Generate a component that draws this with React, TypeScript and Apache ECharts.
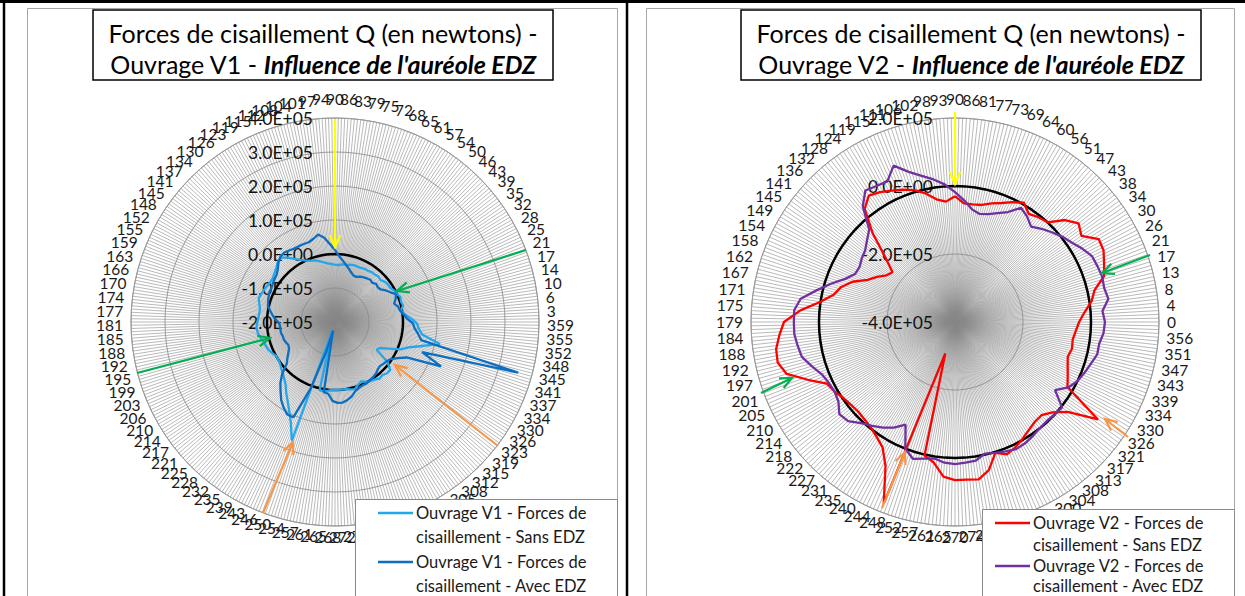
import React, { useEffect, useRef } from "react";
import * as echarts from "echarts";

// Values are in units of 1E+05 N
const UNIT = 1e5;

const ANGLES_V1 = ["90","86","83","79","75","72","68","65","61","57","54","50","46","43","39","35","32","28","25","21","17","14","10","6","3",
  "359","355","352","348","345","341","337","334","330","326","323","319","315","312","308","305","301","297","294","290","286","283","279","275","272",
  "268","265","261","257","254","250","246","243","239","235","232","228","225","221","217","214","210","206","203","199","195","192","188","185","181",
  "177","174","170","166","163","159","155","152","148","145","141","137","134","130","126","123","119","115","112","108","104","101","97","94"];

const V1_SANS_EDZ = [-0.32,-0.32,-0.29,-0.29,-0.26,-0.24,-0.24,-0.24,-0.21,-0.21,
  -0.18,-0.18,-0.15,-0.18,-0.12,-0.09,-0.09,-0.03,0.0,0.06,
  0.03,0.06,-0.03,0.06,0.24,0.41,0.47,0.59,1.15,0.65,
  0.29,0.09,-0.24,-0.47,-0.53,-0.06,0.15,0.15,0.09,0.12,
  0.06,0.03,-0.03,-0.09,-0.03,0.06,0.03,0.0,0.0,0.0,
  0.0,0.03,0.06,0.06,-1.76,1.71,1.24,0.94,0.71,0.53,
  0.35,0.24,0.15,0.09,0.03,0.0,0.0,0.06,0.12,0.15,
  0.18,0.24,0.29,0.32,0.29,0.26,0.24,0.24,0.29,0.35,
  0.32,0.29,0.26,0.24,0.24,0.29,0.35,0.44,0.47,0.35,
  0.21,0.09,0.0,-0.06,-0.09,-0.15,-0.21,-0.26,-0.29];

const V1_AVEC_EDZ = [0.12,-0.06,-0.18,-0.29,-0.38,-0.47,-0.53,-0.53,-0.47,-0.44,
  -0.41,-0.38,-0.41,-0.35,-0.38,-0.35,-0.24,-0.15,-0.03,-0.09,
  -0.18,-0.09,-0.06,0.03,0.12,0.29,0.35,0.47,0.59,3.59,
  0.71,1.38,0.35,0.12,-0.03,-0.09,-0.12,-0.15,-0.12,-0.06,
  -0.03,0.0,0.03,0.03,0.06,0.12,0.24,0.32,0.38,0.38,
  0.32,0.12,0.09,-1.74,-1.12,0.06,1.06,1.06,0.94,0.79,
  0.59,0.41,0.18,-0.12,-0.24,-0.35,-0.44,-0.47,-0.44,-0.41,
  -0.41,-0.38,-0.38,-0.38,-0.35,-0.24,-0.15,-0.06,0.03,0.06,
  0.09,0.12,0.12,0.15,0.18,0.21,0.29,0.41,0.50,0.53,
  0.50,0.47,0.47,0.47,0.47,0.53,0.62,0.50,0.29];

const ANGLES_V2 = ["90","86","81","77","73","69","64","60","56","51","47","43","38","34","30","26","21","17","13","8","4","0",
  "356","351","347","343","339","334","330","326","321","317","313","308","304","300","296","291","287","283","279","274","270",
  "265","261","257","252","248","244","240","235","231","227","222","218","214","210","205","201","197","192","188","184","179",
  "175","171","167","162","158","154","149","145","141","136","132","128","124","119","115","111","106","102","98","93"];

const V2_SANS_EDZ = [-0.3,-0.5,-0.5,-0.47,-0.35,-0.24,-0.09,0.05,-0.15,-0.06,
  0.0,0.41,0.65,0.5,0.88,0.85,0.71,0.59,0.21,0.06,
  -0.18,-0.35,-0.44,-0.5,-0.47,-0.53,-0.44,-0.32,-0.18,1.09,
  0.24,-0.09,-0.26,-0.24,-0.15,-0.03,0.09,0.18,0.03,0.47,
  0.68,0.65,0.65,0.56,0.18,0.03,-3.03,1.74,0.71,0.26,
  0.09,-0.03,-0.09,-0.12,-0.09,-0.03,0.09,0.18,0.65,1.18,
  1.35,1.32,1.18,1.03,0.56,0.0,-0.35,-0.5,-0.76,-1.15,
  -1.35,-1.56,-1.65,-1.21,-0.44,0.26,0.5,0.41,0.29,0.18,
  0.06,-0.12,-0.35,-0.45];

const V2_AVEC_EDZ = [-0.18,-0.41,-0.65,-0.74,-0.68,-0.56,-0.41,-0.12,-0.24,-0.41,
  -0.26,-0.12,0.03,0.15,0.32,0.47,0.5,0.53,0.5,0.56,
  0.35,0.41,0.38,0.29,0.29,0.18,0.09,0.0,-0.15,-0.44,
  0.03,0.0,-0.03,0.0,0.06,0.12,0.15,0.09,0.03,-0.03,
  0.12,0.15,0.18,0.15,0.06,0.12,0.21,0.0,-0.65,-0.41,
  -0.24,-0.09,0.06,0.29,0.35,0.15,0.09,0.12,0.21,0.41,
  0.62,0.68,0.74,0.74,0.74,0.59,0.18,-0.18,-0.53,-0.74,
  -0.76,-0.68,-0.62,-0.47,-0.29,0.35,0.68,0.62,0.59,0.94,
  0.62,0.41,0.24,0.06];

const REF_LEVEL = 0;

const V1_TICKS = { min: -2e5, max: 4e5, interval: 1e5 };
const V2_TICKS = { min: -4e5, max: 2e5, interval: 2e5 };

const TITLE_LINE1 = "Forces de cisaillement Q (en newtons) -";
const TITLE_V1_LINE2 = "Ouvrage V1 - ";
const TITLE_V2_LINE2 = "Ouvrage V2 - ";
const TITLE_EMPH = "Influence de l'auréole EDZ";

const NAME_V1_SANS = "Ouvrage V1 - Forces de cisaillement - Sans EDZ";
const NAME_V1_AVEC = "Ouvrage V1 - Forces de cisaillement - Avec EDZ";
const NAME_V2_SANS = "Ouvrage V2 - Forces de cisaillement - Sans EDZ";
const NAME_V2_AVEC = "Ouvrage V2 - Forces de cisaillement - Avec EDZ";
const NAME_REF = "Référence 0";

const LEGEND_V1 = [["Ouvrage V1 - Forces de", "cisaillement - Sans EDZ"], ["Ouvrage V1 - Forces de", "cisaillement - Avec EDZ"]];
const LEGEND_V2 = [["Ouvrage V2 - Forces de", "cisaillement - Sans EDZ"], ["Ouvrage V2 - Forces de", "cisaillement - Avec EDZ"]];

const C_LB = "#22A6EE";
const C_DB = "#0C6EC0";
const C_RED = "#FF0000";
const C_PUR = "#7030A0";
const FONT = "Lato";

const RADIUS = 204;
const LBL_FONT = 15.5;
const LBL_H = 15.5;
const DIGIT_W = 0.58 * LBL_FONT;
const LBL_M0 = -28; // anchor margin handed to ECharts
const GAP_X = 8, GAP_TOP = 11, GAP_BOTTOM = 3; // wanted gaps between circle and label box

function loop(vals: number[]) {
  const pts: number[][] = vals.map((v, k) => [v * UNIT, k]);
  pts.push([vals[0] * UNIT, vals.length]);
  return pts;
}
function refLoop(n: number) {
  const pts: number[][] = [];
  for (let k = 0; k <= n; k++) pts.push([REF_LEVEL, k]);
  return pts;
}
function fmtSci(v: number) {
  const s = Number(v).toExponential(1).toUpperCase();
  return s.replace(/E([+-])(\d)$/, "E$10$2");
}

// Per-label padding so that each label box sits just outside the circle (Excel-like placement)
function labelRich(angles: string[]) {
  const rich: any = {};
  const N = angles.length;
  angles.forEach((lab, k) => {
    const th = ((90 - (360 * k) / N) * Math.PI) / 180;
    const c = Math.cos(th), s = Math.sin(th);
    const w = lab.length * DIGIT_W, h = LBL_H;
    const px = (RADIUS + LBL_M0) * c, py = -(RADIUS + LBL_M0) * s;
    const ax = Math.abs(px) / RADIUS < 0.3 ? "center" : px > 0 ? "left" : "right";
    const ay = Math.abs(py) / RADIUS < 0.3 ? "middle" : py > 0 ? "top" : "bottom";
    const ex = ax === "center" ? 0 : ax === "left" ? w / 2 : -w / 2;
    const ey = ay === "middle" ? 0 : ay === "top" ? h / 2 : -h / 2;
    const gapY = s > 0 ? GAP_TOP : GAP_BOTTOM;
    const dx = (GAP_X - LBL_M0) * c + (w / 2) * c;
    const dy = -(gapY - LBL_M0) * s - (h / 2) * s;
    const sx = dx - ex, sy = dy - ey;
    let pl = 0, pr = 0, pt = 0, pb = 0;
    if (ax === "left") pl = Math.max(0, sx);
    else if (ax === "right") pr = Math.max(0, -sx);
    else if (sx > 0) pl = 2 * sx; else pr = -2 * sx;
    if (ay === "top") pt = Math.max(0, sy);
    else if (ay === "bottom") pb = Math.max(0, -sy);
    else if (sy > 0) pt = 2 * sy; else pb = -2 * sy;
    rich["a" + k] = { padding: [pt, pr, pb, pl], fontSize: LBL_FONT, fontFamily: FONT, color: "#1a1a1a" };
  });
  return rich;
}

function arrow(x1: number, y1: number, x2: number, y2: number, color: string) {
  const a = Math.atan2(y2 - y1, x2 - x1);
  const L = 13, w = 0.42;
  const p1 = [x2 - L * Math.cos(a - w), y2 - L * Math.sin(a - w)];
  const p2 = [x2 - L * Math.cos(a + w), y2 - L * Math.sin(a + w)];
  return [
    { type: "line", z: 100, silent: true, shape: { x1, y1, x2, y2 }, style: { stroke: color, lineWidth: 2.2 } },
    { type: "polyline", z: 100, silent: true, shape: { points: [p1, [x2, y2], p2] }, style: { stroke: color, lineWidth: 2.2, fill: null } },
  ];
}

function legendBlock(x: number, y: number, w: number, h: number, lineX: number, rows: number[], items: string[][], colors: string[]) {
  const els: any[] = [
    { type: "rect", z: 60, silent: true, shape: { x, y, width: w, height: h }, style: { fill: "#fff", stroke: "#8a8a8a", lineWidth: 1 } },
  ];
  items.forEach((lines, i) => {
    const y1 = rows[i * 2];
    els.push({ type: "line", z: 61, silent: true, shape: { x1: lineX, y1, x2: lineX + 35, y2: y1 }, style: { stroke: colors[i], lineWidth: 2.5 } });
    lines.forEach((t, j) => {
      els.push({ type: "text", z: 61, silent: true, style: { text: t, x: lineX + 38, y: rows[i * 2 + j], fill: "#1a1a1a", fontSize: 16.5, fontFamily: FONT, align: "left", verticalAlign: "middle" } });
    });
  });
  return els;
}

function titleBlock(x: number, w: number, line2: string) {
  const cx = x + w / 2;
  return [
    { type: "rect", z: 60, silent: true, shape: { x, y: 10, width: w, height: 70 }, style: { fill: "#fff", stroke: "#000", lineWidth: 1.5 } },
    { type: "text", z: 61, silent: true, style: { text: TITLE_LINE1, x: cx, y: 33, fill: "#000", fontSize: 25, fontFamily: FONT, align: "center", verticalAlign: "middle" } },
    {
      type: "text", z: 61, silent: true,
      style: {
        text: line2 + "{b|" + TITLE_EMPH + "}", x: cx, y: 64, fill: "#000", fontSize: 25, fontFamily: FONT, align: "center", verticalAlign: "middle",
        rich: { b: { fontSize: 25, fontFamily: FONT, fontWeight: "bold", fontStyle: "italic", fill: "#000" } },
      },
    },
  ];
}

export default function App() {
  const ref = useRef<HTMLDivElement>(null);
  useEffect(() => {
    document.body.style.margin = "0";
    const chart = echarts.init(ref.current!, null, { renderer: "svg" });
    const panels = [
      { center: [335, 322], angles: ANGLES_V1, ticks: V1_TICKS },
      { center: [955, 322], angles: ANGLES_V2, ticks: V2_TICKS },
    ];
    const angleAxis = panels.map((p, i) => ({
      polarIndex: i, type: "value", min: 0, max: p.angles.length, interval: 1, startAngle: 90, clockwise: true,
      axisLine: { show: true, lineStyle: { color: "#9a9a9a", width: 1 } },
      axisTick: { show: false },
      minorTick: { show: false, splitNumber: 4 },
      splitLine: { show: true, lineStyle: { color: "#8a8a8a", width: 0.6 } },
      minorSplitLine: { show: true, lineStyle: { color: "#8a8a8a", width: 0.6 } },
      axisLabel: {
        show: true, margin: LBL_M0, fontSize: LBL_FONT, color: "#1a1a1a", fontFamily: FONT,
        rich: labelRich(p.angles),
        formatter: (v: number) => {
          const k = Math.round(v);
          return k >= 0 && k < p.angles.length ? "{a" + k + "|" + p.angles[k] + "}" : "";
        },
      },
    }));
    const radiusAxis = panels.map((p, i) => ({
      polarIndex: i, type: "value", min: p.ticks.min, max: p.ticks.max, interval: p.ticks.interval,
      axisLine: { show: false }, axisTick: { show: false },
      splitLine: { show: true, lineStyle: { color: "#a0a0a0", width: 1 } },
      axisLabel: { show: true, margin: 22, fontSize: 17.5, color: "#111", fontFamily: FONT, formatter: fmtSci },
    }));
    const lineS = (name: string, polarIndex: number, data: number[][], color: string, width: number, z: number) => ({
      type: "line", name, coordinateSystem: "polar", polarIndex, data, symbol: "none", showSymbol: false,
      lineStyle: { color, width }, itemStyle: { color }, z, silent: true, clip: false,
    });
    const graphic: any[] = [
      { type: "rect", silent: true, z: 0, shape: { x: 27.5, y: 8.5, width: 590, height: 600 }, style: { fill: null, stroke: "#a6a6a6", lineWidth: 1 } },
      { type: "rect", silent: true, z: 0, shape: { x: 646.5, y: 8.5, width: 588, height: 600 }, style: { fill: null, stroke: "#a6a6a6", lineWidth: 1 } },
      { type: "line", silent: true, z: 0, shape: { x1: 0, y1: 1.5, x2: 1245, y2: 1.5 }, style: { stroke: "#000", lineWidth: 3 } },
      { type: "line", silent: true, z: 0, shape: { x1: 4, y1: 0, x2: 4, y2: 596 }, style: { stroke: "#000", lineWidth: 2.5 } },
      { type: "line", silent: true, z: 0, shape: { x1: 627, y1: 0, x2: 627, y2: 596 }, style: { stroke: "#000", lineWidth: 2.5 } },
      ...titleBlock(93, 460, TITLE_V1_LINE2),
      ...titleBlock(741, 460, TITLE_V2_LINE2),
      ...legendBlock(355.5, 499.5, 262, 110, 378, [513, 537, 562, 586], LEGEND_V1, [C_LB, C_DB]),
      ...legendBlock(982.5, 509.5, 252, 100, 995, [523, 545, 566, 586], LEGEND_V2, [C_RED, C_PUR]),
      ...arrow(335, 120, 335, 247, "#FFFF00"),
      ...arrow(526, 250, 397, 291, "#00B050"),
      ...arrow(137, 373, 270, 338, "#00B050"),
      ...arrow(498, 446, 395, 365, "#F79646"),
      ...arrow(263, 513, 293, 442, "#F79646"),
      ...arrow(955, 112, 955, 184, "#FFFF00"),
      ...arrow(1150, 255, 1102, 273, "#00B050"),
      ...arrow(761, 393, 792, 378, "#00B050"),
      ...arrow(1128, 437, 1105, 419, "#F79646"),
      ...arrow(882, 508, 905, 452, "#F79646"),
    ];
    chart.setOption({
      animation: false,
      backgroundColor: "#fff",
      textStyle: { fontFamily: FONT },
      polar: panels.map((p) => ({ center: p.center, radius: RADIUS })),
      angleAxis,
      radiusAxis,
      series: [
        lineS(NAME_REF, 0, refLoop(ANGLES_V1.length), "#000", 2.5, 3),
        lineS(NAME_V1_SANS, 0, loop(V1_SANS_EDZ), C_LB, 2.3, 4),
        lineS(NAME_V1_AVEC, 0, loop(V1_AVEC_EDZ), C_DB, 2.3, 5),
        lineS(NAME_REF + " V2", 1, refLoop(ANGLES_V2.length), "#000", 2.5, 3),
        lineS(NAME_V2_SANS, 1, loop(V2_SANS_EDZ), C_RED, 2.3, 4),
        lineS(NAME_V2_AVEC, 1, loop(V2_AVEC_EDZ), C_PUR, 2.3, 5),
      ],
      graphic,
    });
    return () => chart.dispose();
  }, []);
  return <div ref={ref} style={{ position: "absolute", left: 0, top: 0, width: 1245, height: 596 }} />;
}
